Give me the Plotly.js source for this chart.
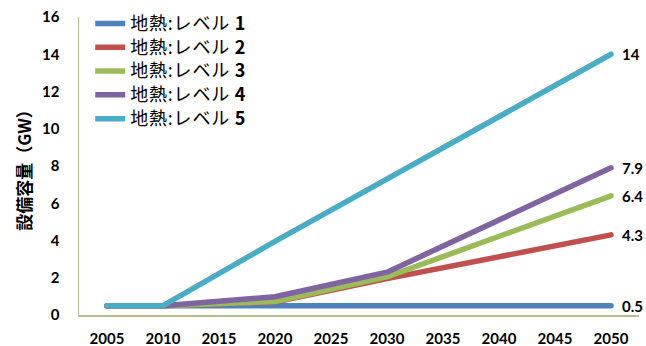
<!DOCTYPE html>
<html>
<head>
<meta charset="utf-8">
<script src="https://cdn.plot.ly/plotly-3.0.1.min.js"></script>
<style>
html,body{margin:0;padding:0;background:#fff;}
#chart{width:646px;height:346px;}
.scatterlayer path.js-line{stroke-linecap:round;stroke-linejoin:round;}
text.legendtext{font-size:18px !important;letter-spacing:0.8px;}
</style>
</head>
<body>
<div id="chart"></div>
<script>
const years = [2005, 2010, 2020, 2030, 2050];
const level1 = [0.5, 0.5, 0.5, 0.5, 0.5];
const level2 = [0.5, 0.5, 0.7, 1.95, 4.3];
const level3 = [0.5, 0.5, 0.72, 2.05, 6.4];
const level4 = [0.5, 0.5, 0.98, 2.3, 7.9];
const level5 = [0.5, 0.5, 3.95, 7.3, 14];
const endLabels = ['0.5', '4.3', '6.4', '7.9', '14'];
const seriesNames = ['地熱:レベル <b>1</b>', '地熱:レベル <b>2</b>', '地熱:レベル <b>3</b>', '地熱:レベル <b>4</b>', '地熱:レベル <b>5</b>'];
const colors = ['#4F81BD', '#C0504D', '#9BBB59', '#8064A2', '#4BACC6'];
const xTicks = [2005, 2010, 2015, 2020, 2025, 2030, 2035, 2040, 2045, 2050];
const yTicks = [0, 2, 4, 6, 8, 10, 12, 14, 16];

const allSeries = [level1, level2, level3, level4, level5];
const traces = allSeries.map((vals, i) => ({
  x: years,
  y: vals,
  type: 'scatter',
  mode: 'lines',
  name: seriesNames[i],
  line: {color: colors[i], width: 5.5},
  cliponaxis: false,
  hoverinfo: 'none'
}));

const numFont = {family: 'Lato, "Liberation Sans", sans-serif', size: 15, color: '#000', weight: 'bold'};

const annotations = allSeries.map((vals, i) => ({
  x: years[years.length - 1],
  y: vals[vals.length - 1],
  xref: 'x', yref: 'y',
  text: '<b>' + endLabels[i] + '</b>',
  showarrow: false,
  xanchor: 'left', yanchor: 'middle',
  xshift: 9,
  font: {family: 'Lato, "Liberation Sans", sans-serif', size: 15, color: '#000'}
}));

const layout = {
  width: 646, height: 346,
  margin: {l: 79, r: 7, t: 17, b: 31},
  paper_bgcolor: '#fff', plot_bgcolor: '#fff',
  showlegend: true,
  annotations: annotations,
  legend: {
    x: 0.02, y: 1.035, xanchor: 'left', yanchor: 'top',
    bgcolor: 'rgba(0,0,0,0)',
    font: {family: '"Noto Sans CJK JP", sans-serif', size: 16, color: '#000'},
    tracegroupgap: 0
  },
  xaxis: {
    type: 'linear', range: [2002.5, 2052.5],
    tickvals: xTicks, ticktext: xTicks.map(String),
    showgrid: false, zeroline: false,
    showline: true, linecolor: '#B4C08C', linewidth: 1.5,
    ticks: '', tickfont: numFont, ticklabelstandoff: 9
  },
  yaxis: {
    range: [0, 16], tickvals: yTicks, ticktext: yTicks.map(String),
    showgrid: false, zeroline: false,
    showline: true, linecolor: '#B4C08C', linewidth: 1.5,
    ticks: '', tickfont: numFont, ticklabelstandoff: 15,
    title: {text: '<b>設備容量（GW）</b>', font: {family: '"Noto Sans CJK JP", sans-serif', size: 17, color: '#000'}, standoff: 6}
  }
};

Plotly.newPlot('chart', traces, layout, {staticPlot: true, displayModeBar: false});
</script>
</body>
</html>
